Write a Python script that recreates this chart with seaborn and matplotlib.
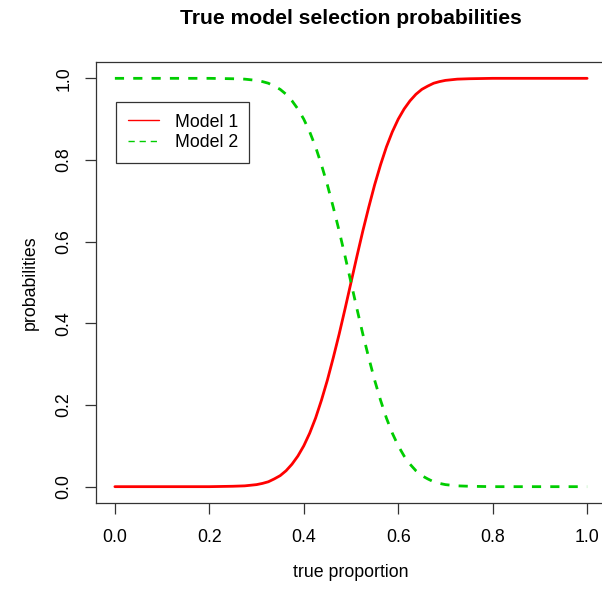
import numpy as np
import pandas as pd
import seaborn as sns
import matplotlib.pyplot as plt
from matplotlib.lines import Line2D

# values
true_prop = [0.0, 0.05, 0.10, 0.15, 0.20, 0.25, 0.275, 0.30, 0.3125, 0.325, 0.3375,
             0.35, 0.3625, 0.375, 0.3875, 0.40, 0.4125, 0.425, 0.4375, 0.45, 0.4625,
             0.475, 0.4875, 0.50, 0.5125, 0.525, 0.5375, 0.55, 0.5625, 0.575, 0.5875,
             0.60, 0.6125, 0.625, 0.6375, 0.65, 0.6625, 0.675, 0.6875, 0.70, 0.725,
             0.75, 0.80, 0.85, 0.90, 0.95, 1.0]
model1 = [0.0, 0.0, 0.0, 0.0, 0.0, 0.001, 0.002, 0.005, 0.008, 0.012, 0.019,
          0.027, 0.039, 0.055, 0.075, 0.100, 0.131, 0.168, 0.212, 0.261, 0.316,
          0.374, 0.436, 0.500, 0.564, 0.626, 0.684, 0.739, 0.788, 0.832, 0.869,
          0.900, 0.925, 0.945, 0.961, 0.973, 0.981, 0.988, 0.992, 0.995, 0.998,
          0.999, 1.0, 1.0, 1.0, 1.0, 1.0]
model2 = [1.0, 1.0, 1.0, 1.0, 1.0, 0.999, 0.998, 0.995, 0.992, 0.988, 0.981,
          0.973, 0.961, 0.945, 0.925, 0.900, 0.869, 0.832, 0.788, 0.739, 0.684,
          0.626, 0.564, 0.500, 0.436, 0.374, 0.316, 0.261, 0.212, 0.168, 0.131,
          0.100, 0.075, 0.055, 0.039, 0.027, 0.019, 0.012, 0.008, 0.005, 0.002,
          0.001, 0.0, 0.0, 0.0, 0.0, 0.0]
x_ticks = [0.0, 0.2, 0.4, 0.6, 0.8, 1.0]
y_ticks = [0.0, 0.2, 0.4, 0.6, 0.8, 1.0]

df = pd.DataFrame({"true_prop": true_prop, "model1": model1, "model2": model2})

sns.set_theme(style="ticks")
plt.rcParams["font.family"] = ["Liberation Sans", "DejaVu Sans"]
plt.rcParams["text.color"] = "black"

red = "#FF0000"
green = "#00CD00"
fs = 12.8

fig = plt.figure(figsize=(6.02, 5.96), dpi=100)
ax = fig.add_axes([96 / 602, 93 / 596, 510 / 602, 441 / 596])

sns.lineplot(data=df, x="true_prop", y="model1", color=red, linewidth=2.0, ax=ax)
sns.lineplot(data=df, x="true_prop", y="model2", color=green, linewidth=2.0,
             linestyle=(0, (3.3, 3.3)), ax=ax)

ax.set_xlim(-0.04, 1.04)
ax.set_ylim(-0.04, 1.04)
ax.set_xticks(x_ticks)
ax.set_yticks(y_ticks)
ax.set_xticklabels([f"{t:.1f}" for t in x_ticks])
ax.set_yticklabels([f"{t:.1f}" for t in y_ticks], rotation=90, va="center")

for s in ax.spines.values():
    s.set_visible(True)
    s.set_color("#333333")
    s.set_linewidth(0.9)
ax.tick_params(axis="both", direction="out", length=8, width=0.9, color="#333333",
               labelsize=fs, labelcolor="black", bottom=True, left=True,
               top=False, right=False)
ax.tick_params(axis="x", pad=11)
ax.tick_params(axis="y", pad=9)

ax.set_xlabel("true proportion", fontsize=fs, color="black")
ax.set_ylabel("probabilities", fontsize=fs, color="black")
ax.xaxis.set_label_coords(0.5, (503 - 564) / 441)
ax.yaxis.set_label_coords((39 - 96) / 510, 0.5)
ax.set_title("True model selection probabilities", fontsize=15.2, fontweight="bold",
             pad=27, color="black")

handles = [Line2D([], [], color=red, linewidth=1.0),
           Line2D([], [], color=green, linewidth=1.0, linestyle=(0, (4.5, 3.5)))]
leg = ax.legend(handles, ["Model 1", "Model 2"], loc="upper left",
                bbox_to_anchor=((116 - 96) / 510, (503 - 102) / 441),
                borderaxespad=0, fancybox=False, framealpha=1, fontsize=fs,
                handlelength=1.75, handletextpad=0.9, labelspacing=0.2,
                borderpad=0.65)
leg.get_frame().set_edgecolor("#333333")
leg.get_frame().set_linewidth(0.9)
for t in leg.get_texts():
    t.set_color("black")

fig.savefig("out.png", dpi=100)
